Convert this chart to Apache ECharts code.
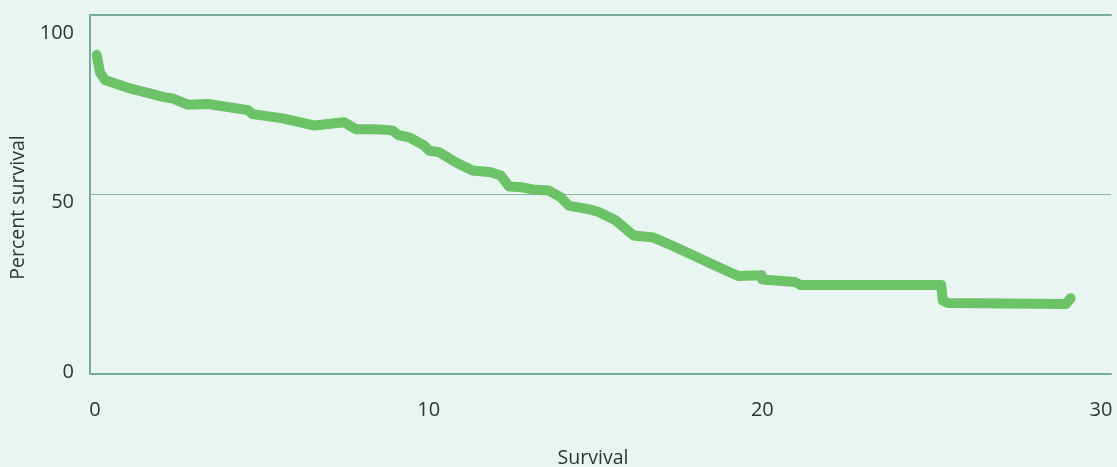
<!DOCTYPE html>
<html>
<head>
<meta charset="utf-8">
<title>Percent survival</title>
<script src="https://cdn.jsdelivr.net/npm/echarts@6/dist/echarts.min.js"></script>
<style>
  html, body { margin: 0; padding: 0; background: #e8f5f0; }
  #chart { width: 1117px; height: 467px; }
</style>
</head>
<body>
<div id="chart"></div>
<script>
// survival curve
const survivalTime = [
  0.05, 0.15, 0.3, 1.1, 1.55, 2.04, 2.34, 2.79, 3.39, 4.58, 4.73, 5.63, 6.58, 7.47,
  7.82, 8.37, 8.75, 8.92, 9.1, 9.42, 9.87, 10.01, 10.31, 10.81, 11.31, 11.86, 12.16,
  12.41, 12.8, 13.2, 13.6, 13.95, 14.2, 14.9, 15.1, 15.6, 15.9, 16.14, 16.74, 17.29,
  18.68, 19.28, 19.98, 20.0, 20.98, 21.15, 25.36, 25.41, 25.56, 29.1, 29.24
]
const percentSurvival = [
  88.9, 84, 81.9, 79.4, 78.4, 77.2, 76.7, 75, 75.2, 73.5, 72.4, 71.2, 69.2, 70.1,
  68.2, 68.2, 68.0, 67.8, 66.5, 65.9, 63.6, 62.2, 61.8, 59, 56.7, 56.2, 55.3,
  52.2, 52, 51.3, 51.1, 49.3, 46.9, 45.7, 45.1, 42.8, 40.5, 38.6, 38.0, 35.8,
  29.8, 27.3, 27.5, 26.3, 25.6, 24.8, 24.8, 20.4, 19.8, 19.5, 21.1
]
const xTicks = [0, 10, 20, 30]
const yTicks = [0, 50, 100]

const textColor = '#333'
const axisColor = '#78ab9b'
const fontFamily = '"Open Sans", sans-serif'
const tickFont = 20

const chart = echarts.init(document.getElementById('chart'))
chart.setOption({
  backgroundColor: '#e8f5f0',
  animation: false,
  grid: { left: 90, right: 6, top: 15, bottom: 93, outerBoundsMode: 'none' },
  xAxis: [
    {
      type: 'value',
      min: -0.15,
      max: 30.45,
      name: 'Survival',
      nameLocation: 'middle',
      nameGap: 74,
      nameTextStyle: { color: textColor, fontSize: 19.5, fontFamily: fontFamily, padding: [0, 15, 0, 0] },
      axisLine: { show: true, onZero: false, lineStyle: { color: axisColor, width: 2 } },
      axisTick: { show: false },
      splitLine: { show: false },
      axisLabel: {
        customValues: xTicks,
        margin: 26,
        color: textColor,
        fontSize: tickFont,
        fontFamily: fontFamily,
        formatter: function (v) {
          return v === 30 ? '{r|30}' : '{n|' + v + '}'
        },
        rich: {
          n: { color: textColor, fontSize: tickFont, fontFamily: fontFamily },
          r: { color: textColor, fontSize: tickFont, fontFamily: fontFamily, padding: [0, 0, 0, 10] }
        }
      }
    },
    {
      // top border line
      type: 'value',
      position: 'top',
      min: -0.15,
      max: 30.45,
      axisLine: { show: true, onZero: false, lineStyle: { color: axisColor, width: 2 } },
      axisTick: { show: false },
      axisLabel: { show: false },
      splitLine: { show: false }
    }
  ],
  yAxis: {
    type: 'value',
    min: yTicks[0],
    max: yTicks[yTicks.length - 1],
    interval: 50,
    name: 'Percent survival',
    nameLocation: 'middle',
    nameGap: 61,
    nameTextStyle: { color: textColor, fontSize: 19.5, fontFamily: fontFamily, padding: [0, 26, 0, 0] },
    axisLine: { show: true, onZero: false, lineStyle: { color: axisColor, width: 2 } },
    axisTick: { show: false },
    splitLine: { show: true, lineStyle: { color: '#8cb9aa', width: 1 } },
    axisLabel: {
      margin: 16,
      color: textColor,
      fontSize: tickFont,
      fontFamily: fontFamily,
      formatter: function (v) {
        if (v === 100) return '{a|100}'
        if (v === 50) return '{b|50}'
        return '{c|' + v + '}'
      },
      rich: {
        a: { color: textColor, fontSize: tickFont, fontFamily: fontFamily, padding: [36, 0, 0, 0] },
        b: { color: textColor, fontSize: tickFont, fontFamily: fontFamily, padding: [15, 0, 0, 0] },
        c: { color: textColor, fontSize: tickFont, fontFamily: fontFamily, padding: [0, 0, 4, 0] }
      }
    }
  },
  series: [
    {
      type: 'line',
      data: survivalTime.map((t, i) => [t, percentSurvival[i]]),
      showSymbol: false,
      lineStyle: { color: '#6cc266', width: 10, cap: 'round', join: 'round' }
    }
  ]
})
</script>
</body>
</html>
